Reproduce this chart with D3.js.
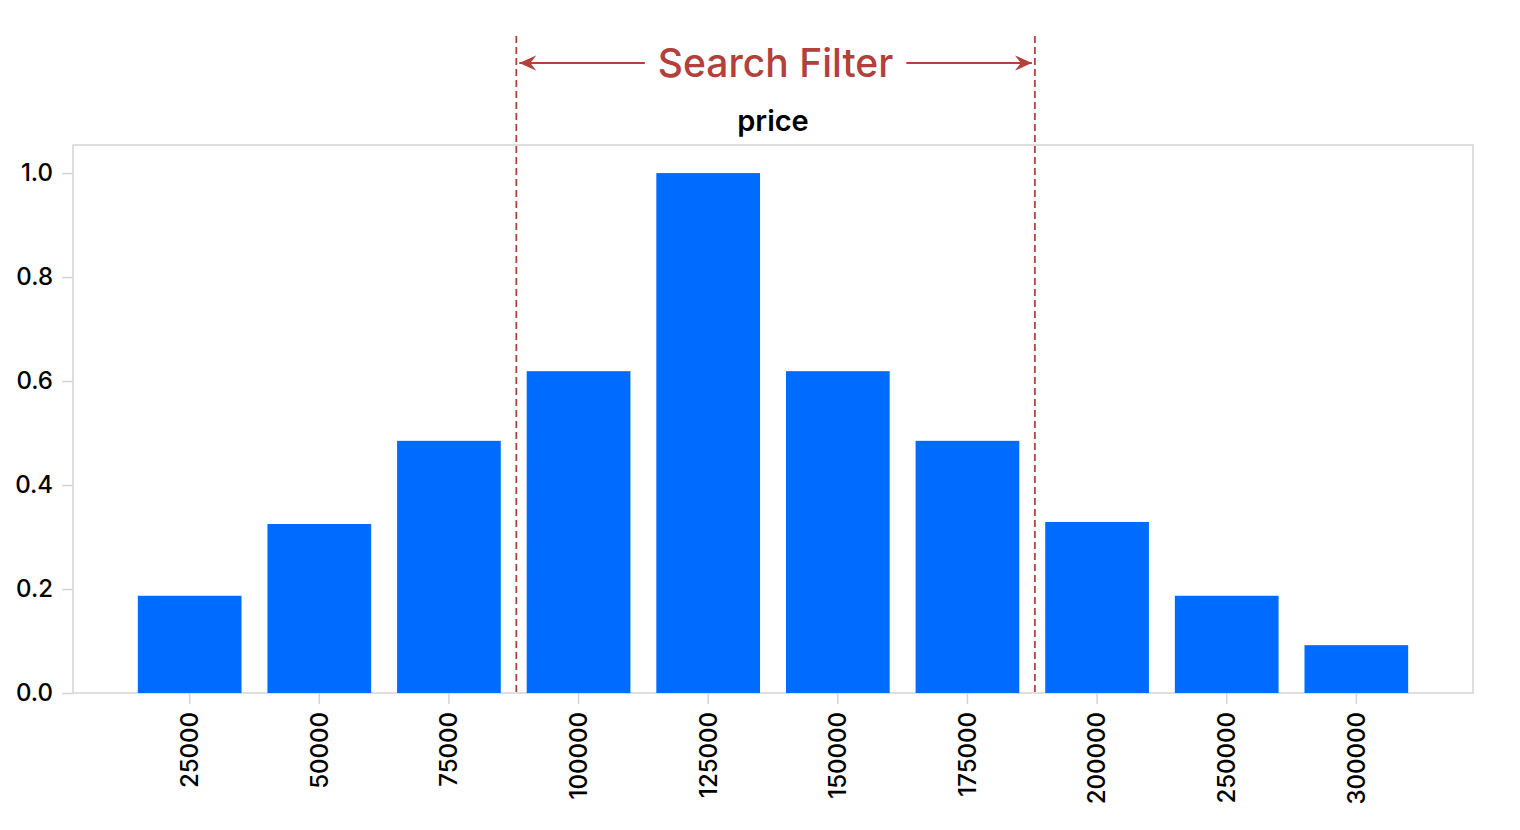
<!DOCTYPE html>
<html>
<head>
<meta charset="utf-8">
<script src="https://cdn.jsdelivr.net/npm/d3@7"></script>
<style>
  body { margin: 0; background: #fff; }
</style>
</head>
<body>
<svg id="chart" width="1520" height="830"></svg>
<script>
// price buckets and normalised counts
const buckets = ["25000", "50000", "75000", "100000", "125000", "150000", "175000", "200000", "250000", "300000"];
const values = [0.187, 0.325, 0.485, 0.619, 1.0, 0.619, 0.485, 0.329, 0.187, 0.092];
const yTicks = [0, 0.2, 0.4, 0.6, 0.8, 1.0];
const filterRange = ["100000", "200000"]; // filter starts at the first, stops before the second

const svg = d3.select("#chart");
const margin = {top: 145, right: 47, bottom: 137, left: 73};
const width = +svg.attr("width") - margin.left - margin.right;
const height = +svg.attr("height") - margin.top - margin.bottom;
const fontFamily = "Inter, 'Noto Sans', sans-serif";
const red = "#b3403a";

svg.attr("font-family", fontFamily);

const x = d3.scaleBand()
  .domain(buckets)
  .range([margin.left, margin.left + width])
  .paddingInner(0.2)
  .paddingOuter(0.5);

const y = d3.scaleLinear()
  .domain([0, 1.054])
  .range([margin.top + height, margin.top]);

// frame
svg.append("rect")
  .attr("x", margin.left)
  .attr("y", margin.top)
  .attr("width", width)
  .attr("height", height)
  .attr("fill", "none")
  .attr("stroke", "#d4d4d4")
  .attr("stroke-width", 1.5);

// bars
svg.append("g")
  .selectAll("rect")
  .data(buckets)
  .join("rect")
    .attr("x", d => x(d))
    .attr("y", (d, i) => y(values[i]))
    .attr("width", x.bandwidth())
    .attr("height", (d, i) => y(0) - y(values[i]))
    .attr("fill", "#006bff");

// axes
const yAxis = svg.append("g")
  .attr("transform", `translate(${margin.left},0)`)
  .call(d3.axisLeft(y).tickValues(yTicks).tickFormat(d3.format(".1f")).tickSize(11).tickPadding(9));

const xAxis = svg.append("g")
  .attr("transform", `translate(0,${margin.top + height})`)
  .call(d3.axisBottom(x).tickSize(11).tickSizeOuter(0));

[xAxis, yAxis].forEach(g => {
  g.select(".domain").remove();
  g.selectAll(".tick line").attr("stroke", "#d4d4d4").attr("stroke-width", 1.5);
  g.selectAll(".tick text")
    .attr("fill", "#000")
    .attr("font-size", 24)
    .attr("font-weight", 500)
    .attr("font-family", fontFamily);
});

xAxis.selectAll(".tick text")
  .attr("transform", "rotate(-90)")
  .attr("text-anchor", "end")
  .attr("x", -19)
  .attr("y", 0)
  .attr("dy", "0.35em");

// title
svg.append("text")
  .attr("x", margin.left + width / 2)
  .attr("y", 131)
  .attr("text-anchor", "middle")
  .attr("font-size", 29)
  .attr("font-weight", 600)
  .text("price");

// search filter markers
const gap = x.step() - x.bandwidth();
const xa = x(filterRange[0]) - gap * 0.4;
const xb = x(filterRange[1]) - gap * 0.4;

svg.selectAll(".filter-line")
  .data([xa, xb])
  .join("line")
    .attr("class", "filter-line")
    .attr("x1", d => d).attr("x2", d => d)
    .attr("y1", 36).attr("y2", margin.top + height)
    .attr("stroke", red)
    .attr("stroke-width", 1.8)
    .attr("stroke-dasharray", "7,4");

svg.append("defs").append("marker")
  .attr("id", "arrow")
  .attr("viewBox", "0 0 10 10")
  .attr("refX", 10).attr("refY", 5)
  .attr("markerWidth", 17).attr("markerHeight", 17)
  .attr("orient", "auto-start-reverse")
  .attr("markerUnits", "userSpaceOnUse")
  .append("path")
    .attr("d", "M0,0.5 L10,5 L0,9.5 L3.5,5 Z")
    .attr("fill", red);

const mid = (xa + xb) / 2;
const label = svg.append("text")
  .attr("x", mid)
  .attr("y", 77)
  .attr("text-anchor", "middle")
  .attr("font-size", 39)
  .attr("font-weight", 500)
  .attr("fill", red)
  .text("Search Filter");

const lw = label.node().getComputedTextLength();
svg.append("line")
  .attr("x1", mid - lw / 2 - 13).attr("x2", xa + 3)
  .attr("y1", 63).attr("y2", 63)
  .attr("stroke", red).attr("stroke-width", 2)
  .attr("marker-end", "url(#arrow)");
svg.append("line")
  .attr("x1", mid + lw / 2 + 13).attr("x2", xb - 3)
  .attr("y1", 63).attr("y2", 63)
  .attr("stroke", red).attr("stroke-width", 2)
  .attr("marker-end", "url(#arrow)");
</script>
</body>
</html>
